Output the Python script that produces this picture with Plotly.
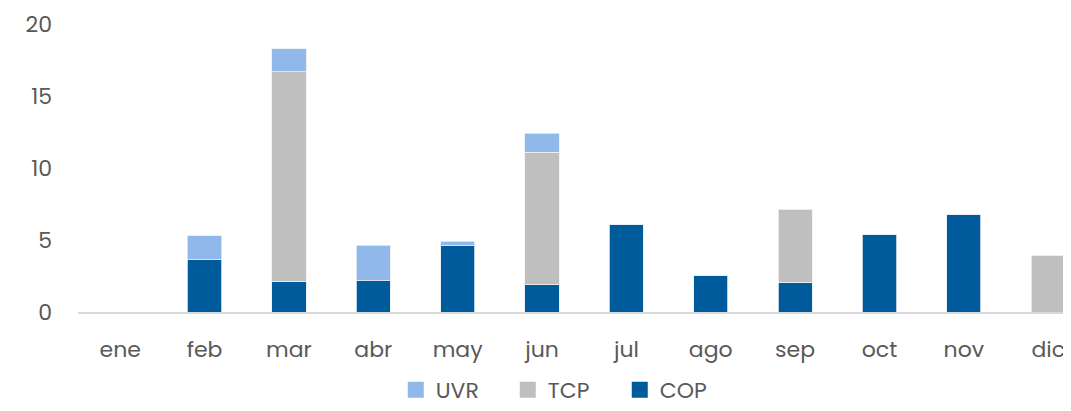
import plotly.graph_objects as go

months = ["ene", "feb", "mar", "abr", "may", "jun", "jul", "ago", "sep", "oct", "nov", "dic"]
cop = [0, 3.64, 2.09, 2.16, 4.59, 1.88, 6.10, 2.55, 2.06, 5.35, 6.79, 0]
tcp = [0, 0, 14.60, 0, 0, 9.22, 0, 0, 5.08, 0, 0, 3.89]
uvr = [0, 1.64, 1.58, 2.48, 0.33, 1.33, 0, 0, 0, 0, 0, 0]

series = [("COP", cop, "#005B9C"), ("TCP", tcp, "#BFBFBF"), ("UVR", uvr, "#91B8EB")]
edge = {"COP": "#E8EEF6", "TCP": "#F2F2F2", "UVR": "#E8EEF6"}
font_fam = "Poppins, Inter, sans-serif"
txt = "#595959"

fig = go.Figure()
for name, vals, col in series:
    fig.add_trace(go.Bar(x=months, y=vals, name=name, legendgroup=name, showlegend=False,
                         marker=dict(color=col, line=dict(color=edge[name], width=0.8))))
# legend entries (square keys), in reference order
for name, vals, col in reversed(series):
    fig.add_trace(go.Scatter(x=[None], y=[None], mode="markers", name=name, legendgroup=name,
                             marker=dict(symbol="square", size=17, color=col)))

fig.update_layout(
    width=1063, height=403,
    barmode="stack", bargap=0.595,
    margin=dict(l=70, r=0, t=16, b=99, autoexpand=False),
    paper_bgcolor="white", plot_bgcolor="white",
    font=dict(family=font_fam, size=22, color=txt),
    showlegend=True,
    legend=dict(orientation="h", traceorder="normal", x=0.32, xanchor="left",
                yref="container", y=-0.0124, yanchor="bottom",
                font=dict(size=22, color=txt), entrywidth=67, entrywidthmode="pixels",
                itemsizing="trace", borderwidth=0),
    xaxis=dict(range=[-0.5, 11.27], showgrid=False, showline=True, linecolor="#D9D9D9", linewidth=2,
               ticks="", tickfont=dict(size=22, color=txt), ticklabelstandoff=17, automargin=False),
    yaxis=dict(range=[0, 20], tickvals=[0, 5, 10, 15, 20], showgrid=False, zeroline=False,
               showline=False, ticks="", tickfont=dict(size=22, color=txt), ticklabelstandoff=25,
               automargin=False),
)

fig.write_html("out.html")
